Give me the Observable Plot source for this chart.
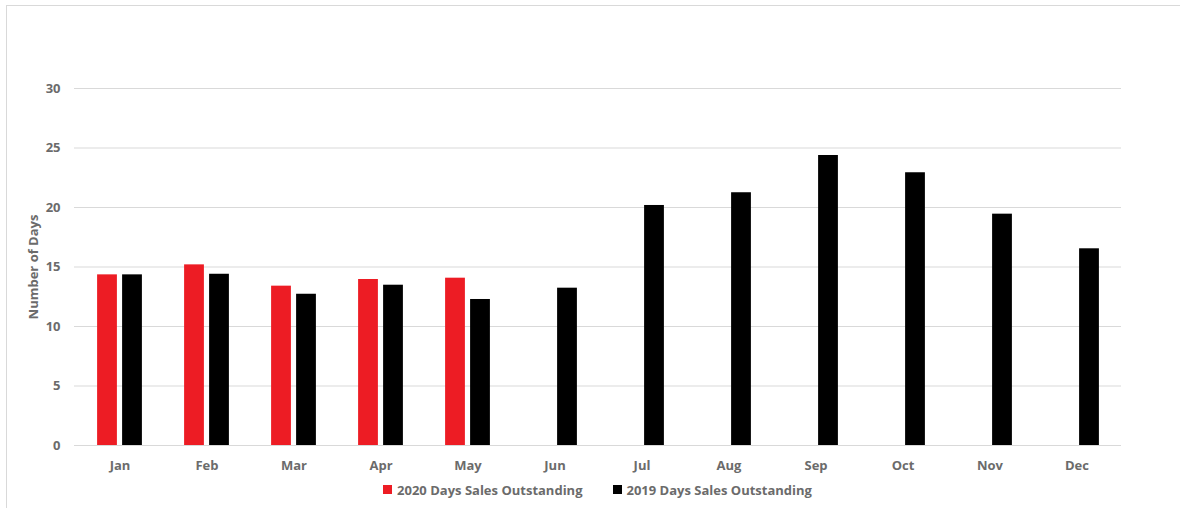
<!DOCTYPE html>
<html>
<head>
<meta charset="utf-8">
<script src="https://cdn.jsdelivr.net/npm/d3@7"></script>
<script src="https://cdn.jsdelivr.net/npm/@observablehq/plot@0.6"></script>
<style>
  html, body { margin: 0; padding: 0; background: #fff; }
  body { width: 1180px; height: 508px; position: relative; overflow: hidden; font-family: "Open Sans", sans-serif; }
  #frame { position: absolute; left: 6px; top: 5px; width: 1300px; height: 600px; border-top: 1px solid #d9d9d9; border-left: 1px solid #d9d9d9; pointer-events: none; }
  #chart { position: absolute; left: 0; top: 0; }
  #legend { position: absolute; left: 74px; width: 1047px; top: 480px; text-align: center; font-weight: 700; font-size: 13px; color: #6b6b6b; white-space: nowrap; }
  .item { display: inline-flex; align-items: center; margin: 0 15px; }
  .sw { width: 9px; height: 9px; display: inline-block; margin-right: 5px; }
</style>
</head>
<body>
<div id="frame"></div>
<div id="chart"></div>
<div id="legend"></div>
<script>
const months = ["Jan","Feb","Mar","Apr","May","Jun","Jul","Aug","Sep","Oct","Nov","Dec"];
const series2020Name = "2020 Days Sales Outstanding";
const series2019Name = "2019 Days Sales Outstanding";
const values2020 = [14.34, 15.18, 13.39, 13.95, 14.06];
const values2019 = [14.34, 14.39, 12.71, 13.47, 12.27, 13.22, 20.17, 21.24, 24.37, 22.92, 19.44, 16.53];
const yTicks = [0, 5, 10, 15, 20, 25, 30];
const colors = {"2020": "#ed1c24", "2019": "#000000"};

const data2020 = values2020.map((v, i) => ({month: months[i], value: v}));
const data2019 = values2019.map((v, i) => ({month: months[i], value: v}));

const inset = 33.6;
const chart = Plot.plot({
  width: 1180,
  height: 478,
  marginLeft: 74,
  marginRight: 59,
  marginTop: 88,
  marginBottom: 33,
  style: {fontFamily: "'Open Sans', sans-serif", fontSize: "13px", fontWeight: 700, color: "#6b6b6b", background: "transparent"},
  x: {domain: months, padding: 0, label: null, tickSize: 0, tickPadding: 15},
  y: {domain: [0, 30], ticks: yTicks, tickSize: 0, tickPadding: 14, label: "Number of Days", labelAnchor: "center", labelOffset: 46, labelArrow: "none", tickFormat: d => String(d)},
  marks: [
    Plot.ruleY(yTicks, {stroke: "#d9d9d9", strokeWidth: 1}),
    Plot.barY(data2020, {x: "month", y: "value", fill: colors["2020"], dx: -12.5, insetLeft: inset, insetRight: inset}),
    Plot.barY(data2019, {x: "month", y: "value", fill: colors["2019"], dx: 12.5, insetLeft: inset, insetRight: inset})
  ]
});
document.getElementById("chart").appendChild(chart);

const legend = document.getElementById("legend");
[[series2020Name, colors["2020"]], [series2019Name, colors["2019"]]].forEach(([name, c]) => {
  const item = document.createElement("span");
  item.className = "item";
  const sw = document.createElement("span");
  sw.className = "sw";
  sw.style.background = c;
  item.appendChild(sw);
  item.appendChild(document.createTextNode(name));
  legend.appendChild(item);
});
</script>
</body>
</html>
